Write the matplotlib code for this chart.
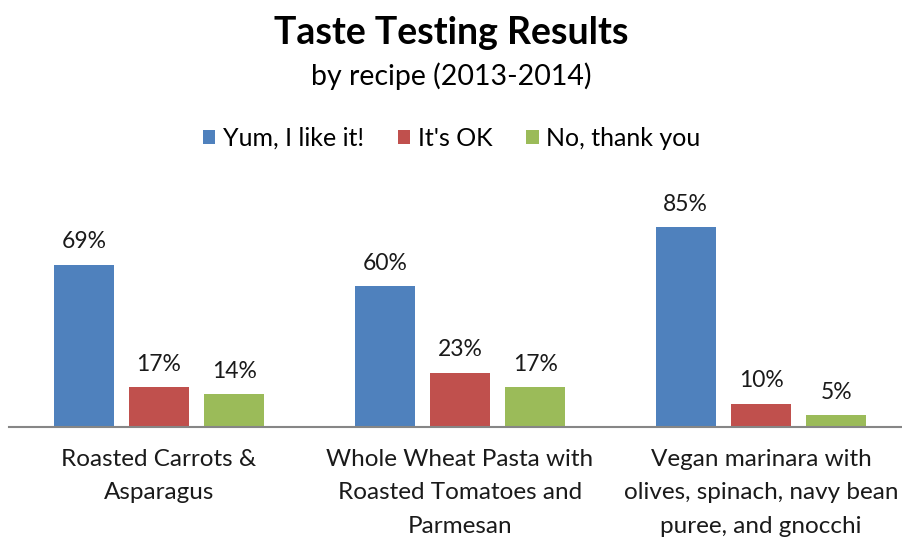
import matplotlib
matplotlib.use("Agg")
import matplotlib.pyplot as plt
from matplotlib.patches import Patch
import numpy as np

# data
recipes = [
    "Roasted Carrots &\nAsparagus",
    "Whole Wheat Pasta with\nRoasted Tomatoes and\nParmesan",
    "Vegan marinara with\nolives, spinach, navy bean\npuree, and gnocchi",
]
series_names = ["Yum, I like it!", "It's OK", "No, thank you"]
yum = [69, 60, 85]
ok = [17, 23, 10]
no_thanks = [14, 17, 5]

colors = ["#4F81BD", "#C0504D", "#9BBB59"]
plt.rcParams["font.family"] = ["Lato", "DejaVu Sans"]

fig = plt.figure(figsize=(9.03, 5.4), dpi=100)
# baseline at y=427px, axis starts at x~8.5px and runs past the right edge
ax = fig.add_axes([8.5 / 903, 1 - 427 / 540, 903 / 903, 234.8 / 540])

x = np.arange(len(recipes))
width = 0.2
offsets = [-0.25, 0.0, 0.25]
for vals, off, col in zip([yum, ok, no_thanks], offsets, colors):
    bars = ax.bar(x + off, vals, width=width, color=col, zorder=2)
    for b, v in zip(bars, vals):
        ax.annotate(f"{v}%", (b.get_x() + b.get_width() / 2, v),
                    xytext=(0, 9), textcoords="offset points",
                    ha="center", va="bottom", fontsize=16.5, color="#1a1a1a")

ax.set_xlim(-0.5, len(recipes) - 0.5)
ax.set_ylim(0, 100)
ax.set_yticks([])
for side in ["top", "left", "right"]:
    ax.spines[side].set_visible(False)
ax.spines["bottom"].set_color("#868686")
ax.spines["bottom"].set_linewidth(1.5)
ax.set_xticks(x)
ax.set_xticklabels(recipes, fontsize=17.5, linespacing=1.72, color="#1a1a1a")
ax.tick_params(axis="x", length=0, pad=16)

fig.text(0.5, 1 - 33.5 / 540, "Taste Testing Results", ha="center", va="center",
         fontsize=27, fontweight="bold", color="black")
fig.text(0.5, 1 - 76 / 540, "by recipe (2013-2014)", ha="center", va="center",
         fontsize=20.5, color="black")

handles = [Patch(facecolor=c, edgecolor="none") for c in colors]
fig.legend(handles, series_names, loc="center", bbox_to_anchor=(0.5, 1 - 138 / 540),
           ncol=3, frameon=False, fontsize=18, handlelength=0.5, handleheight=0.5,
           handletextpad=0.3, columnspacing=1.35)

fig.savefig("out.png", dpi=100)
